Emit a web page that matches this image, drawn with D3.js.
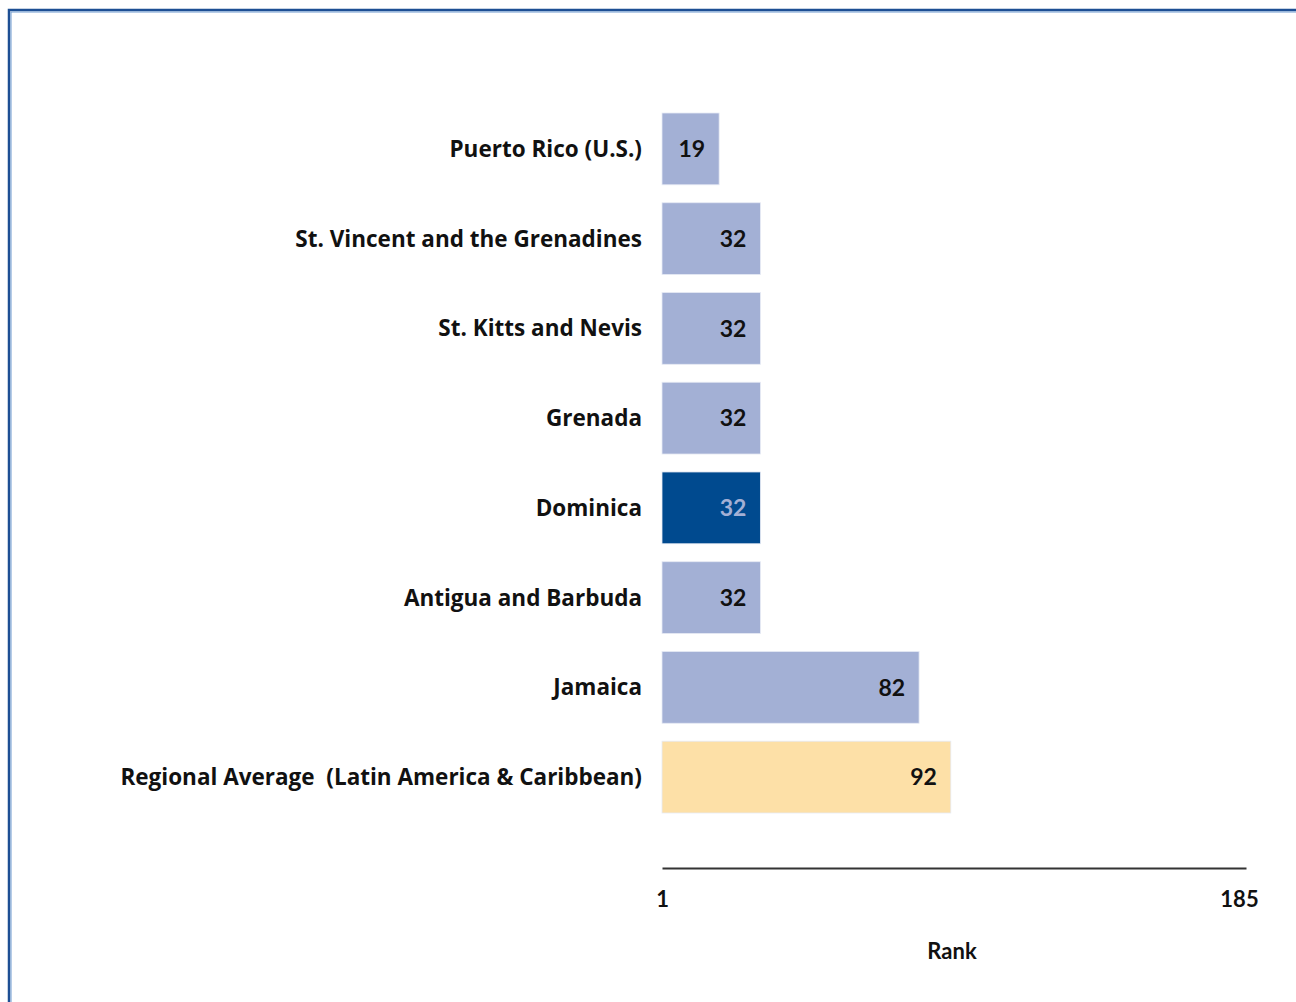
<!DOCTYPE html>
<html><head><meta charset="utf-8">
<script src="https://cdn.jsdelivr.net/npm/d3@7"></script>
<style>body{margin:0;background:#fff}svg{display:block}text{font-family:Lato,"Open Sans",sans-serif;font-weight:bold;white-space:pre}</style>
</head><body>
<svg id="c" width="1296" height="1002"></svg>
<script>
const categories = ["Puerto Rico (U.S.)","St. Vincent and the Grenadines","St. Kitts and Nevis","Grenada","Dominica","Antigua and Barbuda","Jamaica","Regional Average  (Latin America & Caribbean)"];
const ranks = [19,32,32,32,32,32,82,92];
const kinds = ["other","other","other","other","focus","other","other","average"];
const tickLabels = [1,185];
const axisTitle = "Rank";

const svg = d3.select("#c");
// frame
svg.append("path").attr("d","M9,1002 V10 H1296").attr("fill","none").attr("stroke","#1d4f94").attr("stroke-width",2.5);
svg.append("path").attr("d","M11,1002 V12 H1296").attr("fill","none").attr("stroke","#6f9ad0").attr("stroke-width",1);

const x = d3.scaleLinear().domain([1,185]).range([662,1246]);
const y = d3.scaleBand().domain(categories).range([113,813]).paddingInner(0.2).paddingOuter(0);
const fill = {other:"#a3b0d5", focus:"#004a8f", average:"#fde0a7"};
const txt = {other:"#111", focus:"#a3b0d5", average:"#111"};

const g = svg.append("g");
categories.forEach((c,i)=>{
  g.append("rect").attr("x",x(1)).attr("y",y(c)).attr("width",x(ranks[i])-x(1)).attr("height",y.bandwidth())
   .attr("fill",fill[kinds[i]]).attr("stroke","#e6eaf4").attr("stroke-width",0.8);
  g.append("text").attr("x",x(ranks[i])-14).attr("y",y(c)+y.bandwidth()/2).attr("dy","0.36em")
   .attr("text-anchor","end").attr("font-size",23).attr("fill",txt[kinds[i]]).text(ranks[i]);
  g.append("text").attr("x",642).attr("y",y(c)+y.bandwidth()/2).attr("dy","0.36em")
   .attr("text-anchor","end").attr("font-size",22.5).attr("fill","#111")
   .style("font-family","'Open Sans',sans-serif").text(c);
});

const axis = d3.axisBottom(x).tickValues(tickLabels).tickSize(0).tickPadding(23).tickFormat(d3.format("d"));
const ag = svg.append("g").attr("transform","translate(0,868)").call(axis);
ag.select(".domain").attr("stroke","#333").attr("stroke-width",2.2);
ag.selectAll("text").attr("font-size",22).attr("fill","#111").style("font-family","Lato,sans-serif").style("font-weight","bold");
ag.selectAll(".tick").filter(d=>d===185).select("text").attr("dx",-7);

svg.append("text").attr("x",(x(1)+x(185))/2-2).attr("y",959).attr("text-anchor","middle").attr("font-size",22).attr("fill","#111").text(axisTitle);
</script>
</body></html>
